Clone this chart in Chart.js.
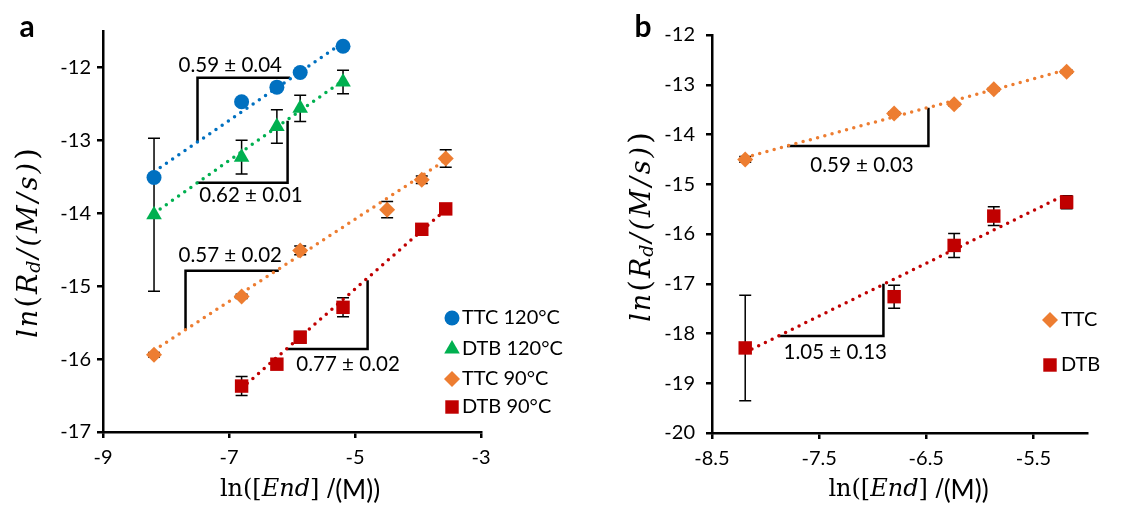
<!DOCTYPE html>
<html><head><meta charset="utf-8">
<script src="https://cdn.jsdelivr.net/npm/chart.js@4.4.1/dist/chart.umd.min.js"></script>
<style>
html,body{margin:0;padding:0;background:#fff;width:1147px;height:508px;overflow:hidden}
#wa{position:absolute;left:0;top:0;width:565px;height:508px}
#wb{position:absolute;left:565px;top:0;width:582px;height:508px}
</style></head><body>
<div id="wa"><canvas id="ca" width="565" height="508"></canvas></div>
<div id="wb"><canvas id="cb" width="582" height="508"></canvas></div>
<script>
// ---------------- DATA ----------------
// Panel a
const seriesNamesA = ['TTC 120°C', 'DTB 120°C', 'TTC 90°C', 'DTB 90°C'];
const ttc120X = [-8.19, -6.80, -6.24, -5.87, -5.19];
const ttc120Y = [-13.51, -12.47, -12.27, -12.07, -11.71];
const ttc120Err = [0.03, 0.03, 0.03, 0.03, 0.03];
const dtb120X = [-8.19, -6.80, -6.24, -5.87, -5.19];
const dtb120Y = [-14.02, -13.23, -12.81, -12.56, -12.20];
const dtb120Err = [1.05, 0.23, 0.23, 0.18, 0.16];
const ttc90X = [-8.19, -6.80, -5.87, -4.49, -3.94, -3.56];
const ttc90Y = [-15.94, -15.14, -14.51, -13.95, -13.54, -13.25];
const ttc90Err = [0.03, 0.03, 0.06, 0.11, 0.05, 0.12];
const dtb90X = [-6.80, -6.24, -5.87, -5.19, -3.94, -3.56];
const dtb90Y = [-16.37, -16.07, -15.70, -15.29, -14.22, -13.94];
const dtb90Err = [0.13, 0.05, 0.08, 0.13, 0.05, 0.05];
// trend lines (endpoints)
const fitTtc120X = [-8.19, -5.19], fitTtc120Y = [-13.43, -11.66];
const fitDtb120X = [-8.19, -5.19], fitDtb120Y = [-14.00, -12.18];
const fitTtc90X = [-8.19, -3.56], fitTtc90Y = [-15.88, -13.27];
const fitDtb90X = [-6.80, -3.56], fitDtb90Y = [-16.40, -13.95];
// slope triangles
const triA1X = [-7.50, -7.50, -6.03], triA1Y = [-13.02, -12.14, -12.14];
const triA2X = [-7.51, -6.07, -6.07], triA2Y = [-13.58, -13.58, -12.73];
const triA3X = [-7.69, -7.69, -6.21], triA3Y = [-15.59, -14.79, -14.79];
const triA4X = [-6.08, -4.80, -4.80], triA4Y = [-15.86, -15.86, -14.92];
const slopeTextsA = ['0.59 ± 0.04', '0.62 ± 0.01', '0.57 ± 0.02', '0.77 ± 0.02'];
const xTicksA = [-9, -7, -5, -3];
const yTicksA = [-17, -16, -15, -14, -13, -12];

// Panel b
const seriesNamesB = ['TTC', 'DTB'];
const bX = [-8.19, -6.80, -6.24, -5.87, -5.19];
const bTtcY = [-14.50, -13.58, -13.39, -13.09, -12.74];
const bTtcErr = [0.06, 0.03, 0.03, 0.03, 0.03];
const bDtbY = [-18.29, -17.26, -16.23, -15.64, -15.36];
const bDtbErr = [1.06, 0.23, 0.24, 0.19, 0.13];
const fitBTtcX = [-8.19, -5.19], fitBTtcY = [-14.46, -12.70];
const fitBDtbX = [-8.19, -5.19], fitBDtbY = [-18.38, -15.20];
const triB1X = [-7.80, -6.48, -6.48], triB1Y = [-14.23, -14.23, -13.46];
const triB2X = [-7.88, -6.90, -6.90], triB2Y = [-18.05, -18.05, -17.00];
const slopeTextsB = ['0.59 ± 0.03', '1.05 ± 0.13'];
const xTicksB = [-8.5, -7.5, -6.5, -5.5];
const yTicksB = [-20, -19, -18, -17, -16, -15, -14, -13, -12];

// ---------------- LAYOUT / STYLE ----------------
const COL = {blue:'#0070C0', green:'#00B050', orange:'#ED7D31', red:'#C00000'};
const TICKFONT = {family:'Lato, "Open Sans", sans-serif', size:20};
const slopePosA = [[-6.98,-11.97],[-6.65,-13.76],[-6.98,-14.58],[-5.11,-16.07]];
const slopePosB = [[-7.10,-14.62],[-7.35,-18.37]];

const pts = (xs, ys) => xs.map((x,i)=>({x:x, y:ys[i]}));
function markerDS(label, xs, ys, errs, color, style, r){
  return {type:'scatter', label:label, data:pts(xs,ys), errors:errs, backgroundColor:color, borderColor:color,
          pointStyle:style, pointRadius:r, pointHoverRadius:r, pointBorderWidth:0, borderWidth:0, order:0, legendItem:true};
}
function fitDS(xs, ys, color){
  return {type:'scatter', data:pts(xs,ys), showLine:true, borderColor:color, borderWidth:3.5, borderDash:[0,7.5],
          borderCapStyle:'round', pointRadius:0, order:1, fill:false};
}
function slopeDS(xs, ys){
  return {type:'scatter', data:pts(xs,ys), showLine:true, borderColor:'#000', borderWidth:2.5, pointRadius:0, order:2,
          borderCapStyle:'butt', borderJoinStyle:'miter', fill:false};
}

function drawRich(ctx, runs, cx, cy, rot){
  ctx.save(); ctx.translate(cx, cy); if (rot) ctx.rotate(rot);
  let total = 0;
  runs.forEach(r=>{ ctx.font = r.font; ctx.letterSpacing = r.ls || '0px'; r.w = ctx.measureText(r.t).width + (r.gap||0); total += r.w; });
  let x = -total/2; ctx.textBaseline = 'middle'; ctx.textAlign = 'left'; ctx.fillStyle = '#000';
  runs.forEach(r=>{ ctx.font = r.font; ctx.letterSpacing = r.ls || '0px'; ctx.fillText(r.t, x, r.dy||0); x += r.w; });
  ctx.restore();
}
const SERIF_I = 'italic 27px "DejaVu Serif", serif';
const yTitleRuns = () => [
  {t:'ln', font:SERIF_I, ls:'2px'},
  {t:'(', font:'30px "DejaVu Serif", serif', ls:'2px', dy:-1},
  {t:'R', font:SERIF_I, ls:'1px'},
  {t:'d', font:'italic 19px "DejaVu Serif", serif', dy:5, ls:'2px'},
  {t:'/(M/s)', font:SERIF_I, ls:'3px'},
  {t:')', font:'30px "DejaVu Serif", serif', dy:-1}
];
const xTitleRuns = () => [
  {t:'ln([', font:'24px "DejaVu Serif", serif'},
  {t:'End', font:'italic 24px "DejaVu Serif", serif'},
  {t:'] /', font:'24px "DejaVu Serif", serif'},
  {t:'(M))', font:'26px Lato, sans-serif', dy:1}
];

const errorBars = {
  id:'errorBars',
  beforeDatasetsDraw(chart){
    const ctx = chart.ctx, xs = chart.scales.x, ys = chart.scales.y;
    ctx.save(); ctx.strokeStyle = '#000'; ctx.lineWidth = 1.5;
    chart.data.datasets.forEach(ds=>{
      if (!ds.errors) return;
      ds.data.forEach((p,i)=>{
        const e = ds.errors[i]; if (!e) return;
        const px = xs.getPixelForValue(p.x), y1 = ys.getPixelForValue(p.y+e), y2 = ys.getPixelForValue(p.y-e);
        ctx.beginPath();
        ctx.moveTo(px,y1); ctx.lineTo(px,y2);
        ctx.moveTo(px-6,y1); ctx.lineTo(px+6,y1);
        ctx.moveTo(px-6,y2); ctx.lineTo(px+6,y2);
        ctx.stroke();
      });
    });
    ctx.restore();
  }
};

const decorations = {
  id:'decorations',
  afterDraw(chart, args, o){
    const ctx = chart.ctx, xs = chart.scales.x, ys = chart.scales.y;
    ctx.save();
    // slope labels
    ctx.fillStyle = '#000'; ctx.font = '20.5px Lato, sans-serif'; ctx.textAlign = 'center'; ctx.textBaseline = 'middle';
    o.texts.forEach((t,i)=>{ ctx.fillText(t, xs.getPixelForValue(o.pos[i][0]), ys.getPixelForValue(o.pos[i][1])); });
    // legend
    const items = chart.data.datasets.filter(d=>d.legendItem);
    items.forEach((d,i)=>{
      const y = o.legend.ys[i];
      ctx.fillStyle = d.backgroundColor; ctx.strokeStyle = d.backgroundColor;
      Chart.helpers.drawPoint(ctx, {pointStyle:d.pointStyle, radius:o.legend.r[i], rotation:0, borderWidth:0}, o.legend.mx, y);
      ctx.fillStyle = '#000'; ctx.font = '20px Lato, sans-serif'; ctx.textAlign = 'left'; ctx.textBaseline = 'middle';
      ctx.fillText(d.label, o.legend.tx, y);
    });
    // panel letter
    ctx.font = 'bold 30px Lato, sans-serif'; ctx.textAlign = 'center'; ctx.textBaseline = 'middle'; ctx.fillStyle = '#000';
    ctx.fillText(o.letter.t, o.letter.x, o.letter.y);
    ctx.restore();
    // axis titles
    const ca = chart.chartArea;
    drawRich(ctx, yTitleRuns(), o.yTitle.x, o.yTitle.y, -Math.PI/2);
    drawRich(ctx, xTitleRuns(), (ca.left+ca.right)/2 + o.xTitle.dx, o.xTitle.y, 0);
  }
};

function scales(xmin, xmax, xt, ymin, ymax, yt, yW, xH, yPad){
  const grid = {drawOnChartArea:false, drawTicks:true, tickLength:6, color:'#000', lineWidth:2.5};
  const border = {display:true, color:'#000', width:2.5};
  return {
    x:{type:'linear', min:xmin, max:xmax, afterBuildTicks:s=>{ s.ticks = xt.map(v=>({value:v})); },
       afterFit:s=>{ s.height = xH; }, grid:grid, border:border,
       ticks:{color:'#000', font:TICKFONT, padding:8, maxRotation:0, autoSkip:false, callback:v=>String(v)}},
    y:{type:'linear', min:ymin, max:ymax, afterBuildTicks:s=>{ s.ticks = yt.map(v=>({value:v})); },
       afterFit:s=>{ s.width = yW; }, grid:grid, border:border,
       ticks:{color:'#000', font:TICKFONT, padding:yPad, autoSkip:false, callback:v=>String(v)}}
  };
}

const common = {responsive:false, animation:false, devicePixelRatio:1, events:[]};

new Chart(document.getElementById('ca'), {
  type:'scatter',
  data:{datasets:[
    markerDS(seriesNamesA[0], ttc120X, ttc120Y, ttc120Err, COL.blue, 'circle', 7.5),
    markerDS(seriesNamesA[1], dtb120X, dtb120Y, dtb120Err, COL.green, 'triangle', 9),
    markerDS(seriesNamesA[2], ttc90X, ttc90Y, ttc90Err, COL.orange, 'rectRot', 8),
    markerDS(seriesNamesA[3], dtb90X, dtb90Y, dtb90Err, COL.red, 'rect', 9.5),
    fitDS(fitTtc120X, fitTtc120Y, COL.blue),
    fitDS(fitDtb120X, fitDtb120Y, COL.green),
    fitDS(fitTtc90X, fitTtc90Y, COL.orange),
    fitDS(fitDtb90X, fitDtb90Y, COL.red),
    slopeDS(triA1X, triA1Y), slopeDS(triA2X, triA2Y), slopeDS(triA3X, triA3Y), slopeDS(triA4X, triA4Y)
  ]},
  options:Object.assign({}, common, {
    layout:{padding:{top:31, right:84, left:0, bottom:0}},
    scales:scales(-9, -3, xTicksA, -17, -11.5, yTicksA, 103, 76, 6),
    plugins:{legend:{display:false}, tooltip:{enabled:false},
      decorations:{texts:slopeTextsA, pos:slopePosA,
        legend:{mx:452, tx:462, ys:[318,349,379,407], r:[7.5,9,8,9.5]},
        letter:{t:'a', x:27, y:27}, yTitle:{x:30, y:243}, xTitle:{dx:8, y:490}}}
  }),
  plugins:[errorBars, decorations]
});

new Chart(document.getElementById('cb'), {
  type:'scatter',
  data:{datasets:[
    markerDS(seriesNamesB[0], bX, bTtcY, bTtcErr, COL.orange, 'rectRot', 8),
    markerDS(seriesNamesB[1], bX, bDtbY, bDtbErr, COL.red, 'rect', 9.5),
    fitDS(fitBTtcX, fitBTtcY, COL.orange),
    fitDS(fitBDtbX, fitBDtbY, COL.red),
    slopeDS(triB1X, triB1Y), slopeDS(triB2X, triB2Y)
  ]},
  options:Object.assign({}, common, {
    layout:{padding:{top:35, right:60, left:0, bottom:0}},
    scales:scales(-8.5, -5.0, xTicksB, -20, -12, yTicksB, 147, 75, 11),
    plugins:{legend:{display:false}, tooltip:{enabled:false},
      decorations:{texts:slopeTextsB, pos:slopePosB,
        legend:{mx:485, tx:496, ys:[320,365], r:[8,9.5]},
        letter:{t:'b', x:78, y:27}, yTitle:{x:78, y:227}, xTitle:{dx:9, y:490}}}
  }),
  plugins:[errorBars, decorations]
});
</script>
</body></html>
